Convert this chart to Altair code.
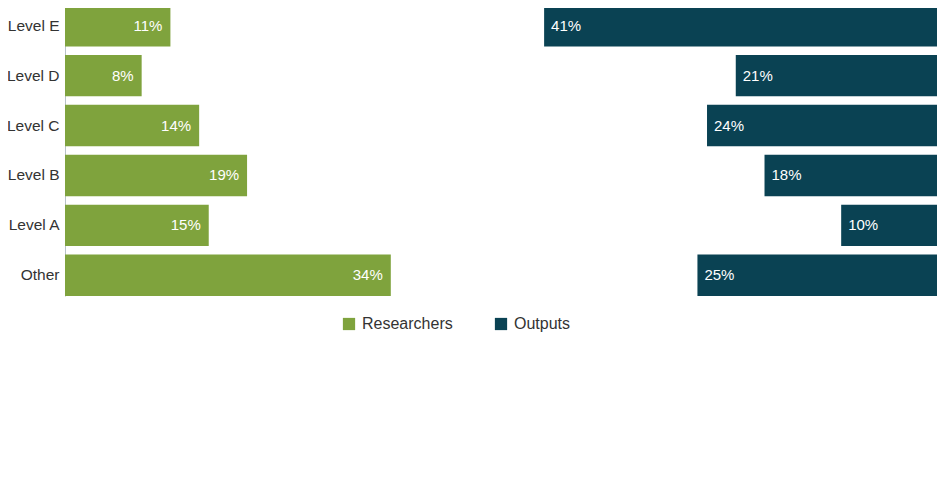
import altair as alt
import pandas as pd

categories = ["Level E", "Level D", "Level C", "Level B", "Level A", "Other"]
researchers = [11, 8, 14, 19, 15, 34]
outputs = [41, 21, 24, 18, 10, 25]
series = ["Researchers", "Outputs"]
colors = ["#7FA33D", "#0A4253"]
axis_max = 91

rows = []
for c, r, o in zip(categories, researchers, outputs):
    rows.append({"category": c, "series": "Researchers", "value": r})
    rows.append({"category": c, "series": "Outputs", "value": o})
df = pd.DataFrame(rows)

base = alt.Chart(df).transform_calculate(
    start=f"datum.series == 'Outputs' ? {axis_max} - datum.value : 0",
    end=f"datum.series == 'Outputs' ? {axis_max} : datum.value",
    label="datum.value + '%'",
)

xscale = alt.Scale(domain=[0, axis_max], nice=False, zero=True)
y = alt.Y(
    "category:N",
    sort=categories,
    scale=alt.Scale(paddingInner=0.17, paddingOuter=0),
    axis=alt.Axis(
        title=None, domain=True, domainColor="#B8C2C8", domainWidth=1,
        ticks=False, labelFontSize=15.5, labelColor="#333333", labelPadding=6,
    ),
)

bars = base.mark_bar().encode(
    x=alt.X("start:Q", scale=xscale, axis=None),
    x2="end:Q",
    y=y,
    color=alt.Color(
        "series:N",
        sort=series,
        scale=alt.Scale(domain=series, range=colors),
        legend=alt.Legend(
            title=None, orient="none", legendX=276, legendY=311,
            direction="horizontal", symbolType="square", symbolSize=150,
            symbolStrokeWidth=0, labelFontSize=16, labelColor="#333333",
            columnPadding=40, labelOffset=5,
        ),
    ),
)

text_r = base.transform_filter("datum.series == 'Researchers'").mark_text(
    align="right", baseline="middle", dx=-8, color="white", fontSize=15
).encode(x=alt.X("end:Q", scale=xscale), y=alt.Y("category:N", sort=categories), text="label:N")

text_o = base.transform_filter("datum.series == 'Outputs'").mark_text(
    align="left", baseline="middle", dx=7, color="white", fontSize=15
).encode(x=alt.X("start:Q", scale=xscale), y=alt.Y("category:N", sort=categories), text="label:N")

chart = (
    alt.layer(bars, text_r, text_o)
    .properties(
        width=872, height=291,
        autosize=alt.AutoSizeParams(type="none"),
        padding={"left": 57, "top": -3, "right": 0, "bottom": 175},
    )
    .configure(font="Liberation Sans")
    .configure_view(stroke=None)
)

chart.save("out.html", embed_options={"renderer": "svg", "actions": False})
